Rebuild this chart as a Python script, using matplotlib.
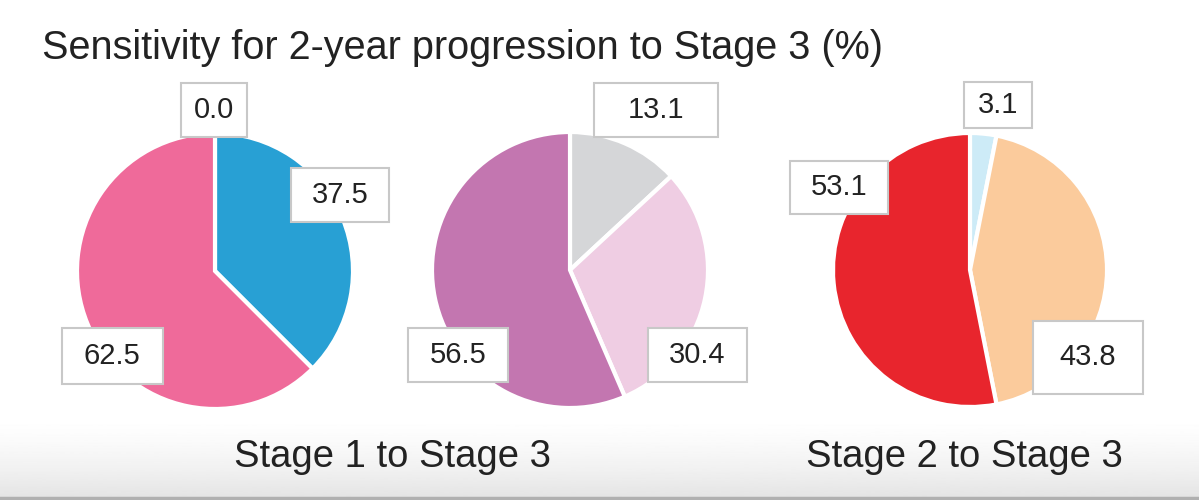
import numpy as np
import matplotlib
matplotlib.use("Agg")
import matplotlib.pyplot as plt

plt.rcParams["font.family"] = ["Liberation Sans", "DejaVu Sans"]

title = "Sensitivity for 2-year progression to Stage 3 (%)"

stage1_values = [0.0, 37.5, 62.5]
stage1_colors = ["#cfeaf6", "#28a0d4", "#ef6a9a"]

stage1b_values = [13.1, 30.4, 56.5]
stage1b_colors = ["#d5d6d8", "#efcde3", "#c376b0"]

stage2_values = [3.1, 43.8, 53.1]
stage2_colors = ["#cdebf7", "#fbcb9c", "#e8252d"]

subtitles = ["Stage 1 to Stage 3", "Stage 2 to Stage 3"]

W, H = 1199, 500
fig = plt.figure(figsize=(W / 100, H / 100), dpi=100)
ax = fig.add_axes([0, 0, 1, 1])

# soft grey band at the bottom
grad = np.linspace(0, 1, 100).reshape(-1, 1) ** 1.5
ax.imshow(1 - 0.11 * grad, cmap="gray", vmin=0, vmax=1, aspect="auto",
          extent=(0, W, 0, 85), origin="upper", zorder=0)
ax.axhline(2, color="#b0b0b0", lw=2.5, zorder=1)


def draw_pie(values, colors, cx, cy, r, labels_at):
    ax.pie(values, colors=colors, startangle=90, counterclock=False,
           center=(cx, H - cy), radius=r, frame=True,
           wedgeprops=dict(edgecolor="white", linewidth=3))
    for v, (lx, ly, bw, bh) in zip(values, labels_at):
        ax.add_patch(plt.Rectangle((lx - bw / 2, H - ly - bh / 2), bw, bh,
                                   facecolor="white", edgecolor="#c8c8c8",
                                   lw=1.5, zorder=5))
        ax.text(lx, H - ly, f"{v:.1f}", ha="center", va="center",
                fontsize=21, color="#222222", zorder=6)


draw_pie(stage1_values, stage1_colors, 215, 271, 138,
         [(214, 110, 66, 54), (340, 195, 98, 54), (112, 356, 101, 56)])
draw_pie(stage1b_values, stage1b_colors, 570, 270, 138,
         [(656, 110, 124, 54), (697, 355, 99, 54), (458, 355, 100, 54)])
draw_pie(stage2_values, stage2_colors, 970, 270, 137,
         [(998, 105, 68, 46), (1088, 357, 110, 73), (839, 187, 98, 53)])

ax.text(42, H - 48, title, ha="left", va="center", fontsize=28.5, color="#222222")
ax.text(393, H - 457, subtitles[0], ha="center", va="center", fontsize=27.5, color="#222222")
ax.text(964, H - 457, subtitles[1], ha="center", va="center", fontsize=27.5, color="#222222")

ax.set_xlim(0, W)
ax.set_ylim(0, H)
ax.set_aspect("auto")
ax.axis("off")

fig.savefig("out.png", dpi=100)
